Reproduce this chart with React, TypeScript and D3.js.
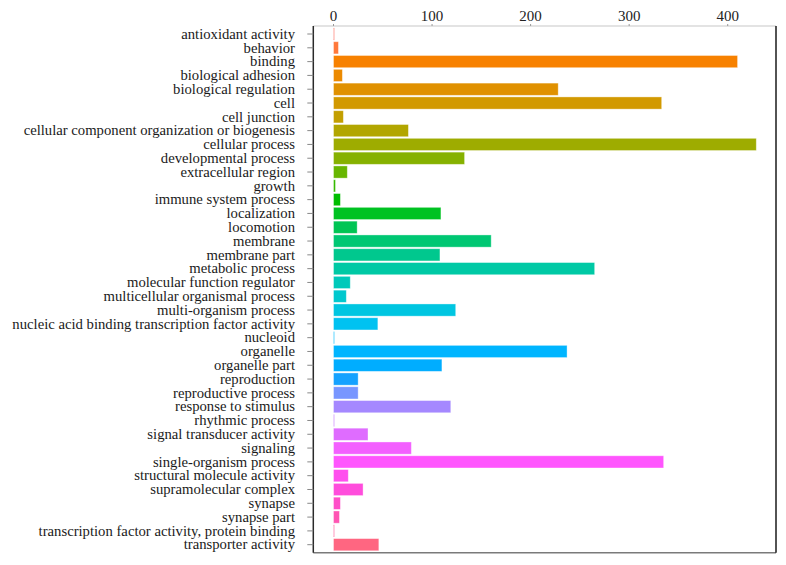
import React from "react";
import * as d3 from "d3";

const categories = [
  "antioxidant activity","behavior","binding","biological adhesion","biological regulation","cell","cell junction",
  "cellular component organization or biogenesis","cellular process","developmental process","extracellular region",
  "growth","immune system process","localization","locomotion","membrane","membrane part","metabolic process",
  "molecular function regulator","multicellular organismal process","multi-organism process",
  "nucleic acid binding transcription factor activity","nucleoid","organelle","organelle part","reproduction",
  "reproductive process","response to stimulus","rhythmic process","signal transducer activity","signaling",
  "single-organism process","structural molecule activity","supramolecular complex","synapse","synapse part",
  "transcription factor activity, protein binding","transporter activity",
];
const counts = [
  1,5,410,9,228,333,10,
  76,429,133,14,
  2,7,109,24,160,108,265,
  17,13,124,
  45,1,237,110,25,
  25,119,1,35,79,
  335,15,30,7,6,
  1,46,
];
const xTicks = [0, 100, 200, 300, 400];

// hue palette in polar LUV (clipped to sRGB)
function hclLuv(h: number, c: number, l: number): string {
  const hr = (h * Math.PI) / 180;
  const U = c * Math.cos(hr), V = c * Math.sin(hr);
  const Xn = 95.047, Yn = 100, Zn = 108.883;
  const Y = l > 8 ? Yn * Math.pow((l + 16) / 116, 3) : (Yn * l) / 903.3;
  const den = Xn + 15 * Yn + 3 * Zn;
  const un = (4 * Xn) / den, vn = (9 * Yn) / den;
  const u = U / (13 * l) + un, v = V / (13 * l) + vn;
  const X = (9 * Y * u) / (4 * v);
  const Z = -X / 3 - 5 * Y + (3 * Y) / v;
  const x = X / 100, y = Y / 100, z = Z / 100;
  const lin = [
    3.240479 * x - 1.53715 * y - 0.498535 * z,
    -0.969256 * x + 1.875992 * y + 0.041556 * z,
    0.055648 * x - 0.204043 * y + 1.057311 * z,
  ];
  const g = (t: number) => {
    const tt = Math.max(0, Math.min(1, t));
    const s = tt <= 0.0031308 ? 12.92 * tt : 1.055 * Math.pow(tt, 1 / 2.4) - 0.055;
    return Math.round(Math.max(0, Math.min(1, s)) * 255);
  };
  return d3.rgb(g(lin[0]), g(lin[1]), g(lin[2])).formatHex();
}

export default function App() {
  const W = 786, H = 565;
  const left = 313.3, right = 776, top = 26, bottom = 552.7;
  const x = d3.scaleLinear().domain([-20.5, 449]).range([left, right]);
  const y = d3.scalePoint<string>().domain(categories).range([top, bottom]).padding(0.58);
  const n = categories.length;
  const colors = categories.map((_, i) => hclLuv(15 + (360 / n) * i, 120, 66));
  const barH = 12.2;
  const font = "'Liberation Serif', 'Times New Roman', serif";

  return (
    <svg width={W} height={H} style={{ position: "absolute", left: 0, top: 0, background: "#fff" }}>
      <rect x={0} y={0} width={W} height={H} fill="#fff" />
      {categories.map((c, i) => (
        <rect
          key={c}
          x={x(0)}
          y={(y(c) as number) - barH / 2}
          width={Math.max(0.8, x(counts[i]) - x(0))}
          height={barH}
          fill={colors[i]}
          stroke="#fff"
          strokeOpacity={0.45}
          strokeWidth={0.8}
        />
      ))}
      {/* frame */}
      <line x1={left} x2={right} y1={top} y2={top} stroke="#c8c8c8" strokeWidth={1.2} />
      <line x1={left} x2={right} y1={bottom} y2={bottom} stroke="#7a7a7a" strokeWidth={1.5} />
      <line x1={left} x2={left} y1={top} y2={bottom} stroke="#2a2a2a" strokeWidth={1.5} />
      <line x1={right} x2={right} y1={top} y2={bottom} stroke="#1a1a1a" strokeWidth={1.5} />
      {/* top axis */}
      {xTicks.map((t) => (
        <g key={t}>
          <line x1={x(t)} x2={x(t)} y1={top - 2} y2={top} stroke="#999" strokeWidth={1} />
          <text x={x(t)} y={21} textAnchor="middle" fontFamily={font} fontSize={15} fill="#222">
            {t}
          </text>
        </g>
      ))}
      {/* left axis */}
      {categories.map((c) => (
        <g key={c}>
          <line x1={left - 6} x2={left} y1={y(c)} y2={y(c)} stroke="#888" strokeWidth={1} />
          <text x={295} y={(y(c) as number) + 4.8} textAnchor="end" fontFamily={font} fontSize={14.7} fill="#1a1a1a">
            {c}
          </text>
        </g>
      ))}
    </svg>
  );
}
